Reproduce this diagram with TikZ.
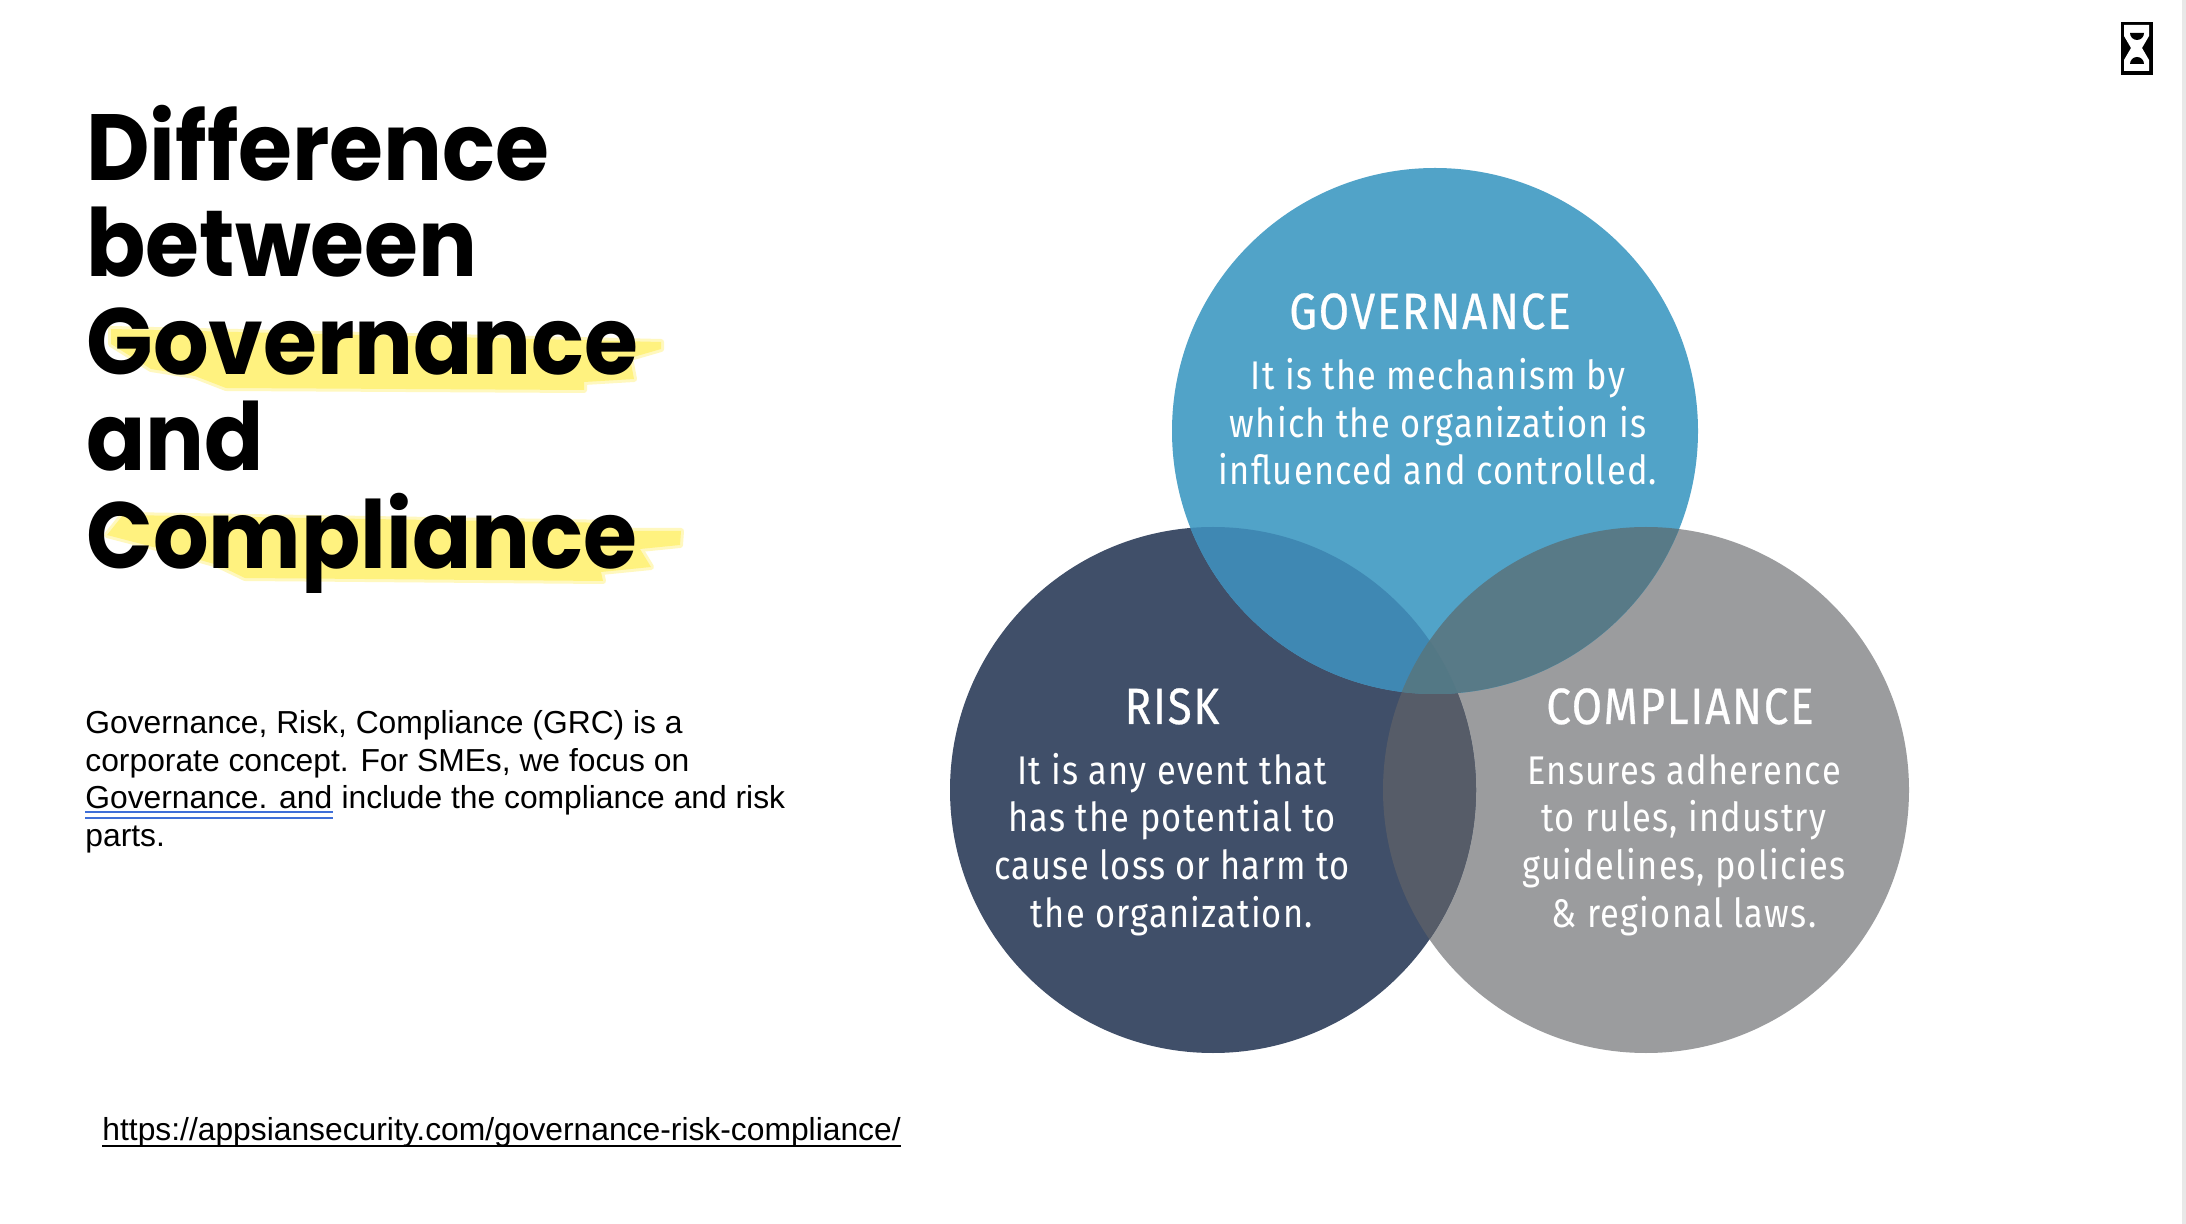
\documentclass[tikz,border=0pt]{standalone}
\usepackage{fontspec}
\usepackage{tikz}
\usetikzlibrary{positioning}
\setmainfont{Liberation Sans}
\newfontfamily\titlefont[Ligatures=CommonOff, BoldFeatures={FakeStretch=0.93}]{Poppins}
\newfontfamily\vennbodyfont[FakeStretch=0.86, LetterSpace=3.2]{Fira Sans}
\newfontfamily\vennheadfont[FakeStretch=0.86, LetterSpace=3.5, FakeBold=0.5]{Fira Sans}
\definecolor{GovBlue}{HTML}{51A3C8}
\definecolor{RiskNavy}{HTML}{404F69}
\definecolor{CompGray}{HTML}{9B9C9E}
\definecolor{GovRisk}{HTML}{3F88B3}
\definecolor{GovComp}{HTML}{587A87}
\definecolor{RiskComp}{HTML}{565C68}
\definecolor{AllThree}{HTML}{537885}
\definecolor{BrushYellow}{HTML}{FFF27F}
\definecolor{LinkBlue}{HTML}{3F6FD8}
\definecolor{BarGray}{HTML}{E8E8E8}
\newcommand{\govcirc}{(1435,431) circle (263)}
\newcommand{\riskcirc}{(1213,790) circle (263)}
\newcommand{\compcirc}{(1646,790) circle (263)}
\newcommand{\govbrush}{(111,329) -- (661,342) -- (661,349) -- (630,358) -- (634,379) -- (584,382)
  -- (584,390) -- (226,388) -- (195,376) -- (151,369) -- (111,344) -- cycle}
\newcommand{\compbrush}{(123,515) -- (617,523) -- (617,531) -- (681,531) -- (680,545) -- (640,549)
  -- (651,567) -- (601,572) -- (603,581) -- (245,578) -- (218,565) -- (157,548) -- (107,535) -- cycle}

\begin{document}
\begin{tikzpicture}[x=0.5pt, y=-0.5pt,
  headline/.style={anchor=base west, inner sep=0pt, font=\titlefont\bfseries\fontsize{47}{47}\selectfont},
  para/.style={anchor=base west, inner sep=0pt, font=\fontsize{15.9}{19}\selectfont},
  vennhead/.style={anchor=base, inner sep=0pt, text=white, font=\vennheadfont\fontsize{25.5}{30}\selectfont},
  vennbody/.style={anchor=base, inner sep=0pt, text=white, font=\vennbodyfont\fontsize{20}{24}\selectfont},
  brushsoft/.style={draw=BrushYellow!50, fill=BrushYellow!50, line width=3pt, line join=round}]
  \useasboundingbox (0,0) rectangle (2186,1224);
  \fill[white] (0,0) rectangle (2186,1224);
  \fill[BarGray] (2182,0) rectangle (2186,1224);

  % brush strokes
  \path[brushsoft] \govbrush;
  \fill[BrushYellow] \govbrush;
  \path[brushsoft] \compbrush;
  \fill[BrushYellow] \compbrush;

  % title
  \node[headline] (t1) at (86,181) {Difference};
  \node[headline] (t2) at (86,277) {between};
  \node[headline] (t3) at (86,375) {Governance};
  \node[headline] (t4) at (86,471) {and};
  \node[headline] (t5) at (86,569) {Compliance};

  % left text
  \node[para] (p1) at (85,734) {Governance, Risk, Compliance (GRC) is a};
  \node[para] (p2) at (85,771) {corporate concept. For SMEs, we focus on};
  \node[para] (p3) at (85,809) {Governance. and};
  \node[para, right=4.2pt of p3.base east, anchor=base west] (p3b) {include the compliance and risk};
  \node[para] (p4) at (85,847) {parts.};
  \draw[LinkBlue, line width=1pt] ([yshift=-1.5pt]p3.base west) -- ([yshift=-1.5pt]p3.base east);
  \draw[LinkBlue, line width=1pt] ([yshift=-4.5pt]p3.base west) -- ([yshift=-4.5pt]p3.base east);
  \node[para] (url) at (102,1140) {https://appsiansecurity.com/governance-risk-compliance/};
  \draw[black, line width=1pt] ([yshift=-3pt]url.base west) -- ([yshift=-3pt]url.base east);

  % circles
  \fill[CompGray] \compcirc;
  \fill[RiskNavy] \riskcirc;
  \fill[GovBlue] \govcirc;
  \begin{scope}
    \clip \riskcirc;
    \fill[RiskComp] \compcirc;
  \end{scope}
  \begin{scope}
    \clip \govcirc;
    \fill[GovRisk] \riskcirc;
    \fill[GovComp] \compcirc;
    \clip \riskcirc;
    \fill[AllThree] \compcirc;
  \end{scope}

  % circle labels
  \node[vennhead] (gov) at (1430,329) {GOVERNANCE};
  \node[vennbody] (gov1) at (1438,390) {It is the mechanism by};
  \node[vennbody] (gov2) at (1438,438) {which the organization is};
  \node[vennbody] (gov3) at (1438,485) {influenced and controlled.};
  \node[vennhead] (risk) at (1172,724) {RISK};
  \node[vennbody] (risk1) at (1172,784) {It is any event that};
  \node[vennbody] (risk2) at (1172,832) {has the potential to};
  \node[vennbody] (risk3) at (1172,879) {cause loss or harm to};
  \node[vennbody] (risk4) at (1172,927) {the organization.};
  \node[vennhead] (comp) at (1680,724) {COMPLIANCE};
  \node[vennbody] (comp1) at (1684,784) {Ensures adherence};
  \node[vennbody] (comp2) at (1684,832) {to rules, industry};
  \node[vennbody] (comp3) at (1684,879) {guidelines, policies};
  \node[vennbody] (comp4) at (1684,927) {\& regional laws.};

  % logo
  \fill[black] (2121,22) rectangle (2153,75);
  \fill[white] (2124,25) -- (2149,25) -- (2149,36) -- (2142,48) -- (2149,60) -- (2149,71)
    -- (2124,71) -- (2124,60) -- (2131,48) -- (2124,36) -- cycle;
  \fill[black] (2130,33) -- (2144,33) arc[start angle=0, end angle=180, radius=7] -- cycle;
  \fill[black] (2130,64) -- (2144,64) arc[start angle=0, end angle=-180, radius=7] -- cycle;
\end{tikzpicture}
\end{document}
